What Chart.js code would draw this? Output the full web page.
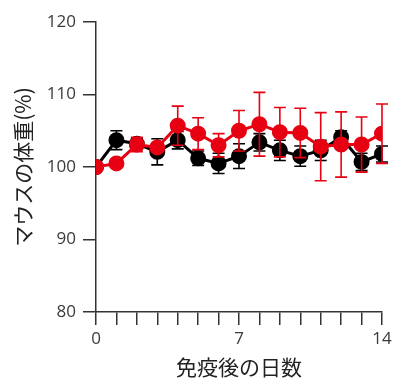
<!DOCTYPE html>
<html lang="ja">
<head>
<meta charset="UTF-8">
<title>マウスの体重</title>
<script src="https://cdn.jsdelivr.net/npm/chart.js"></script>
<style>
  html, body { margin: 0; padding: 0; background: #fff; }
  #wrap { width: 393px; height: 378px; }
</style>
</head>
<body>
<div id="wrap"><canvas id="weightChart"></canvas></div>
<script>
// days after immunization
const days = [0, 1, 2, 3, 4, 5, 6, 7, 8, 9, 10, 11, 12, 13, 14];
const xTickLabels = [0, 7, 14];

// body weight (%), mean and error
const blackMean = [100, 103.7, 103.2, 102.1, 103.7, 101.2, 100.5, 101.5, 103.4, 102.3, 101.5, 102.3, 104.1, 100.7, 101.8];
const blackErr  = [0, 1.3, 0.8, 1.8, 1.2, 1.0, 1.4, 1.7, 1.2, 1.4, 1.4, 1.4, 0.9, 1.2, 1.1];
const redMean   = [100, 100.5, 103.1, 102.7, 105.7, 104.6, 103.0, 105.0, 105.9, 104.8, 104.7, 102.8, 103.1, 103.1, 104.6];
const redErr    = [0, 0, 1.0, 0.6, 2.7, 2.2, 1.6, 2.8, 4.4, 3.4, 3.4, 4.7, 4.5, 3.8, 4.1];

const RED = '#e60012';
const FONT = "'Noto Sans CJK JP', 'Noto Sans', sans-serif";
const NUM_FONT = "'Open Sans', 'Noto Sans', sans-serif";

function toPoints(mean) {
    return days.map((d, i) => ({ x: d, y: mean[i] }));
}

// draws vertical error bars with caps, before each line is drawn
const errorBars = {
    id: 'errorBars',
    beforeDatasetDraw(chart, args) {
        const ds = chart.data.datasets[args.index];
        if (!ds.errors) return;
        const { ctx, scales } = chart;
        ctx.save();
        ctx.strokeStyle = ds.errorColor;
        ctx.lineWidth = 1.6;
        ds.data.forEach((p, i) => {
            const e = ds.errors[i];
            if (!e) return;
            const x = scales.x.getPixelForValue(p.x);
            const top = scales.y.getPixelForValue(p.y + e);
            const bot = scales.y.getPixelForValue(p.y - e);
            ctx.beginPath();
            ctx.moveTo(x, top); ctx.lineTo(x, bot);
            ctx.moveTo(x - 6, top); ctx.lineTo(x + 6, top);
            ctx.moveTo(x - 6, bot); ctx.lineTo(x + 6, bot);
            ctx.stroke();
        });
        ctx.restore();
    }
};

const ctx = document.getElementById('weightChart').getContext('2d');
new Chart(ctx, {
    type: 'line',
    data: {
        datasets: [{
            label: 'black',
            data: toPoints(blackMean),
            errors: blackErr,
            errorColor: '#000',
            borderColor: '#000',
            backgroundColor: '#000',
            borderWidth: 3,
            pointRadius: 6.5,
            order: 2
        }, {
            label: 'red',
            data: toPoints(redMean),
            errors: redErr,
            errorColor: RED,
            borderColor: RED,
            backgroundColor: RED,
            borderWidth: 3,
            pointRadius: 6.5,
            order: 1
        }]
    },
    options: {
        responsive: true,
        maintainAspectRatio: false,
        animation: false,
        layout: { padding: { left: 0, right: 11, top: 22, bottom: 0 } },
        plugins: { legend: { display: false }, tooltip: { enabled: false } },
        elements: { point: { borderWidth: 0 } },
        scales: {
            x: {
                type: 'linear',
                min: 0,
                max: 14,
                afterFit: s => { s.height = 66; s.paddingLeft = 0; s.paddingRight = 0; },
                ticks: {
                    stepSize: 1,
                    autoSkip: false,
                    maxRotation: 0,
                    padding: 4,
                    color: '#3a3a3a',
                    font: { family: NUM_FONT, size: 17 },
                    callback: v => xTickLabels.includes(v) ? String(v) : ''
                },
                grid: { drawOnChartArea: false, tickLength: 13, color: '#333', lineWidth: 1.5 },
                border: { color: '#333', width: 1.5 },
                title: {
                    display: true,
                    text: '免疫後の日数',
                    color: '#222',
                    font: { family: FONT, size: 21, lineHeight: 1 },
                    padding: { top: 0, bottom: 0 }
                }
            },
            y: {
                min: 80,
                max: 120,
                afterFit: s => { s.width = 96; },
                ticks: {
                    stepSize: 10,
                    padding: 7,
                    color: '#3a3a3a',
                    font: { family: NUM_FONT, size: 17 }
                },
                grid: { drawOnChartArea: false, tickLength: 13, color: '#333', lineWidth: 1.5 },
                border: { color: '#333', width: 1.5 },
                title: {
                    display: true,
                    text: 'マウスの体重(%)',
                    color: '#222',
                    font: { family: FONT, size: 21, lineHeight: 1.2 },
                    padding: { top: 10, bottom: 0 }
                }
            }
        }
    },
    plugins: [errorBars]
});
</script>
</body>
</html>
